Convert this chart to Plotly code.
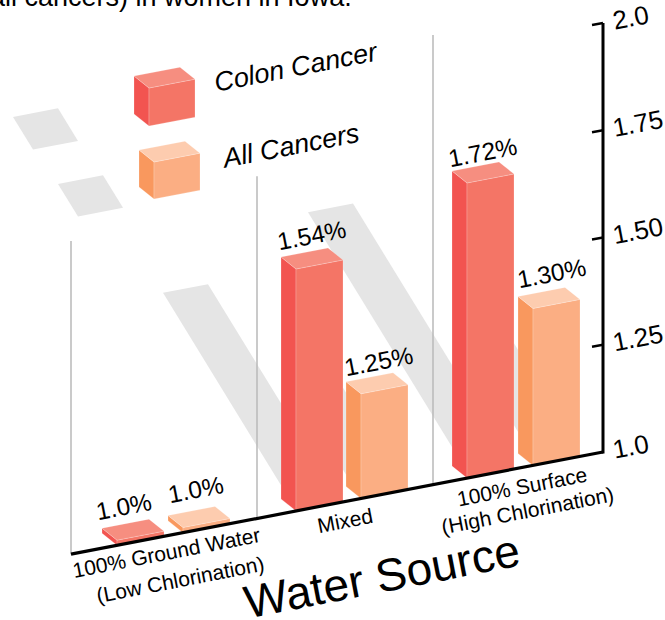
import plotly.graph_objects as go

# ---- data ----
category_lines = [["100% Ground Water", "(Low Chlorination)"], ["Mixed"], ["100% Surface", "(High Chlorination)"]]
series_names = ["Colon Cancer", "All Cancers"]
colon_drawn = [1.012, 1.564, 1.688]          # bar tops as drawn against the axis
all_drawn = [1.012, 1.244, 1.366]
colon_labels = ["1.0%", "1.54%", "1.72%"]    # printed labels
all_labels = ["1.0%", "1.25%", "1.30%"]
tick_values = [1.0, 1.25, 1.5, 1.75, 2.0]
tick_text = ["1.0", "1.25", "1.50", "1.75", "2.0"]

# ---- layout constants (page pixels) ----
W, H = 665, 620
AXIS_X, AXIS_Y0, PX_PER_UNIT = 603, 452, 429
SLOPE = 0.192
BAR_W, DEPTH_X, DEPTH_Y = 47, 15, 12
ANGLE = -11
FONT = "Liberation Sans"

colon_x = [117, 296, 467]
all_x = [183, 361, 533]
wall_x = [71, 257, 433]
wall_top = [1.492, 1.643, 1.972]
# x of top-left corner, top-left value, horizontal run of the shadow
shadows = [(13, 1.781, 20), (58, 1.625, 20), (163, 1.371, 122), (308, 1.559, 152),
           (293, 1.149, 60), (452, 1.298, 75)]

COLON = ("#f25450", "#f47566", "#f68e80")
ALLC = ("#f9985e", "#fbae83", "#fdccaf")


def to_val(py):
    return 1 + (AXIS_Y0 - py) / PX_PER_UNIT


def dv(px):
    return px / PX_PER_UNIT


def floor(x):
    return 1 - dv(SLOPE * (AXIS_X - x))


fig = go.Figure()


def poly(xs, ys, color, edge=None):
    fig.add_trace(go.Scatter(
        x=xs + xs[:1], y=ys + ys[:1], mode="lines", fill="toself", fillcolor=color,
        line=dict(color=edge or color, width=0.8 if edge else 0),
        hoverinfo="skip", showlegend=False))


def seg(xs, ys, color, width):
    fig.add_trace(go.Scatter(x=xs, y=ys, mode="lines", line=dict(color=color, width=width),
                             hoverinfo="skip", showlegend=False))


def box(x, bottom, top, palette, w=BAR_W):
    """x: front-left; bottom/top: values at the front-left corner."""
    side, front, lid = palette
    rise = dv(SLOPE * w)
    dx, dy = DEPTH_X, dv(DEPTH_Y)
    poly([x - dx, x, x, x - dx], [bottom + dy, bottom, top, top + dy], side, "rgba(255,255,255,0.25)")
    poly([x, x + w, x + w, x], [bottom, bottom + rise, top + rise, top], front, "rgba(255,255,255,0.25)")
    poly([x - dx, x + w - dx, x + w, x], [top + dy, top + dy + rise, top + rise, top], lid, "rgba(255,255,255,0.25)")


# shadows
for sx, sv, run in shadows:
    drop = dv(1.63 * run)
    rise = dv(SLOPE * 45)
    poly([sx, sx + 45, sx + 45 + run, sx + run],
         [sv, sv + rise, sv + rise - drop, sv - drop], "#e5e5e5")

# back walls
for x, top in zip(wall_x, wall_top):
    seg([x, x], [floor(x), top], "#b8b8b8", 1.5)

# bars (back to front, left to right)
for i in range(len(category_lines)):
    for x, v, pal in ((colon_x[i], colon_drawn[i], COLON), (all_x[i], all_drawn[i], ALLC)):
        box(x, floor(x), floor(x) + (v - 1), pal)

# legend cubes
box(149, to_val(126), to_val(88), COLON, 46)
box(154, to_val(199), to_val(162), ALLC, 46)

# axes
seg([wall_x[0], AXIS_X], [floor(wall_x[0]), 1], "black", 3.2)
seg([AXIS_X, AXIS_X], [1 - dv(1.5), tick_values[-1]], "black", 3)
for t in tick_values[1:]:
    seg([AXIS_X - 11, AXIS_X], [t - dv(2), t], "black", 2.4)

ann = []


def text(x, y, s, size, xshift=0, yshift=0):
    ann.append(dict(x=x, y=y, text=s, showarrow=False, textangle=ANGLE, xref="x", yref="y",
                    xanchor="center", yanchor="middle", xshift=xshift, yshift=yshift,
                    font=dict(family=FONT, size=size, color="black")))


label_nudges_colon = [(-9, 23), (-1, 23), (-1, 20)]
label_nudges_all = [(-3, 27), (1, 22), (2, 24)]
for i in range(3):
    for x, v, s, (nx, ny) in ((colon_x[i], colon_drawn[i], colon_labels[i], label_nudges_colon[i]),
                              (all_x[i], all_drawn[i], all_labels[i], label_nudges_all[i])):
        top = floor(x) + (v - 1)
        cx = x + (BAR_W - DEPTH_X) / 2
        cy = top + dv(DEPTH_Y + SLOPE * BAR_W) / 2
        text(cx, cy, s, 24.5, xshift=nx, yshift=ny)

cat_centers = [[(166, 552), (180, 579)], [(345, 520)], [(522, 486), (527, 510)]]
for centers, lines in zip(cat_centers, category_lines):
    for (x, y), line in zip(centers, lines):
        text(x, to_val(y), line, 21)

text(296, to_val(67), "<i>" + series_names[0] + "</i>", 27)
text(290, to_val(146), "<i>" + series_names[1] + "</i>", 27)
text(382, to_val(575.5), "Water Source", 46)

ann.append(dict(x=354, y=to_val(14), text="(all cancers) in women in Iowa.", showarrow=False,
                xref="x", yref="y", xanchor="right", yanchor="bottom",
                font=dict(family=FONT, size=27, color="black")))

fig.update_layout(
    width=W, height=H, margin=dict(l=0, r=0, t=0, b=0, autoexpand=False),
    paper_bgcolor="white", plot_bgcolor="white", showlegend=False,
    annotations=ann, font=dict(family=FONT, color="black"),
    xaxis=dict(range=[0, W], domain=[0, 1], visible=False, fixedrange=True),
    yaxis=dict(range=[to_val(H), to_val(0)], domain=[0, 1], anchor="free", position=AXIS_X / W,
               side="right", tickmode="array", tickvals=[t + dv(2) for t in tick_values], ticktext=tick_text,
               tickangle=ANGLE, tickfont=dict(family=FONT, size=26, color="black"),
               ticklabeloverflow="allow", automargin=False,
               ticks="outside", ticklen=3, tickcolor="rgba(0,0,0,0)", showline=False,
               showgrid=False, zeroline=False, fixedrange=True),
)
fig.write_html("out.html", config=dict(displayModeBar=False),
               post_script="document.body.style.margin='0';document.body.style.overflow='hidden';")
